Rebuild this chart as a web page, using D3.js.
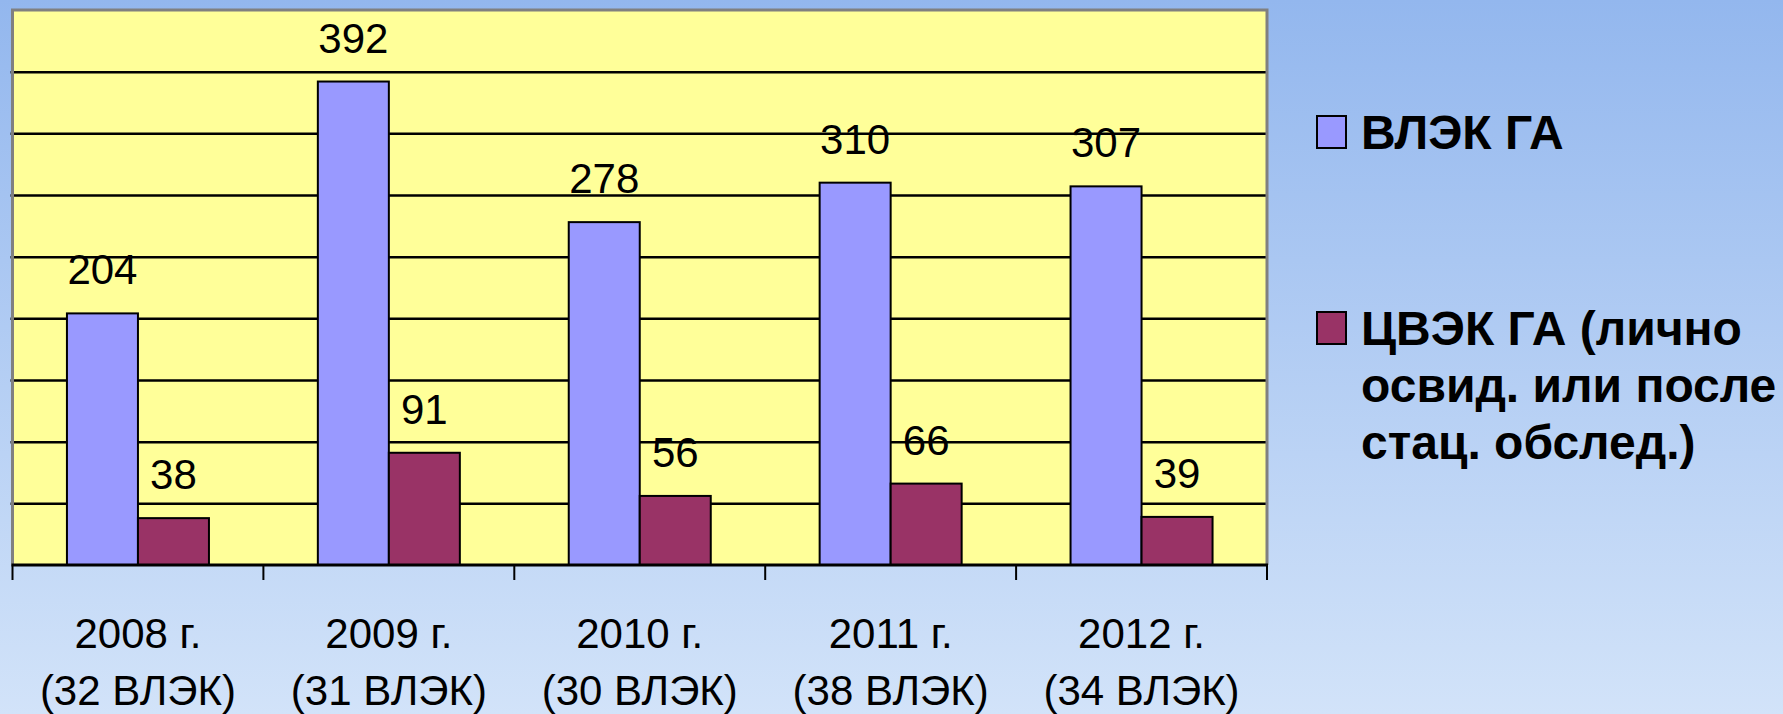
<html lang="ru">
<head>
  <meta charset="UTF-8"/>
  <title>ВЛЭК / ЦВЭК ГА</title>
  <script src="https://d3js.org/d3.v7.min.js"></script>
  <style>
body {
  margin: 0;
  font-family: 'Liberation Sans', Arial, sans-serif;
}

svg {
  display: block;
}

.bar {
  stroke: #000;
  stroke-width: 2;
}

.grid line {
  stroke: #000;
  stroke-width: 2.5;
}

.grid path {
  stroke-width: 0;
}

text.value {
  font-size: 42px;
  fill: #000;
}

text.cat {
  font-size: 42px;
  fill: #000;
}

text.legend {
  font-size: 48px;
  font-weight: 700;
  fill: #000;
}
  </style>
</head>
<body>
  <svg id="chart" width="1783" height="714"></svg>
  <script>

const years = ['2008 г.', '2009 г.', '2010 г.', '2011 г.', '2012 г.'];
const vlekCounts = ['(32 ВЛЭК)', '(31 ВЛЭК)', '(30 ВЛЭК)', '(38 ВЛЭК)', '(34 ВЛЭК)'];
const seriesNames = ['ВЛЭК ГА', 'ЦВЭК ГА (лично освид. или после стац. обслед.)'];
const legendLines = [['ВЛЭК ГА'], ['ЦВЭК ГА (лично', 'освид. или после', 'стац. обслед.)']];
const vlekGA = [204, 392, 278, 310, 307];
const cvekGA = [38, 91, 56, 66, 39];
const yTicks = [0, 50, 100, 150, 200, 250, 300, 350, 400, 450];

const colors = ['#9999FF', '#993366'];

const svg = d3.select('#chart');
const W = 1783, H = 714;

// background gradient
const grad = svg.append('defs').append('linearGradient')
  .attr('id', 'bg').attr('x1', 0).attr('y1', 0).attr('x2', 0).attr('y2', 1);
grad.append('stop').attr('offset', '0%').attr('stop-color', '#93B7EE');
grad.append('stop').attr('offset', '100%').attr('stop-color', '#D2E3F9');
svg.append('rect').attr('width', W).attr('height', H).attr('fill', 'url(#bg)');

const plotL = 12.5, plotR = 1267, plotT = 10, plotB = 565;

const x0 = d3.scaleBand().domain(years).range([plotL, plotR]).padding(0);
const bw = x0.bandwidth();
const x1 = d3.scaleBand().domain(seriesNames).range([bw * 0.217, bw * 0.783]).padding(0);
const y = d3.scaleLinear().domain([0, 450]).range([plotB, plotT]);

// plot area
svg.append('rect')
  .attr('x', plotL).attr('y', plotT)
  .attr('width', plotR - plotL).attr('height', plotB - plotT)
  .attr('fill', '#FFFF99');

// grid lines
svg.append('g')
  .attr('class', 'grid')
  .attr('transform', `translate(${plotL},0)`)
  .call(d3.axisLeft(y).tickValues(yTicks.slice(1, -1)).tickSize(-(plotR - plotL)).tickFormat(''))
  .call(g => g.selectAll('line').attr('x1', -2).attr('x2', plotR - plotL));

// plot border (gray) on left, top, right
svg.append('path')
  .attr('d', `M${plotL},${plotB}V${plotT}H${plotR}V${plotB}`)
  .attr('fill', 'none')
  .attr('stroke', '#808080')
  .attr('stroke-width', 3);

const data = years.map((yr, i) => ({ year: yr, values: [vlekGA[i], cvekGA[i]] }));

const groups = svg.selectAll('g.group')
  .data(data)
  .enter()
  .append('g')
  .attr('class', 'group')
  .attr('transform', d => `translate(${x0(d.year)},0)`);

groups.selectAll('rect')
  .data(d => d.values.map((v, k) => ({ key: seriesNames[k], k: k, v: v })))
  .enter()
  .append('rect')
  .attr('class', 'bar')
  .attr('x', d => x1(d.key))
  .attr('y', d => y(d.v))
  .attr('width', x1.bandwidth())
  .attr('height', d => y(0) - y(d.v))
  .attr('fill', d => colors[d.k]);

groups.selectAll('text.value')
  .data(d => d.values.map((v, k) => ({ key: seriesNames[k], v: v })))
  .enter()
  .append('text')
  .attr('class', 'value')
  .attr('x', d => x1(d.key) + x1.bandwidth() / 2)
  .attr('y', d => y(d.v) - 29)
  .attr('text-anchor', 'middle')
  .text(d => d.v);

// x axis
const xAxis = svg.append('g')
  .attr('transform', `translate(0,${plotB})`)
  .call(d3.axisBottom(x0).tickSize(0).tickFormat(''));
xAxis.select('.domain').attr('stroke', '#000').attr('stroke-width', 3).attr('d', `M${plotL - 1},0H${plotR + 1}`);

xAxis.selectAll('line.bound')
  .data(d3.range(years.length + 1))
  .enter()
  .append('line')
  .attr('class', 'bound')
  .attr('x1', i => plotL + x0.step() * i)
  .attr('x2', i => plotL + x0.step() * i)
  .attr('y1', 0)
  .attr('y2', 15)
  .attr('stroke', '#000')
  .attr('stroke-width', 2);

const catText = xAxis.selectAll('text.cat')
  .data(years)
  .enter()
  .append('text')
  .attr('class', 'cat')
  .attr('text-anchor', 'middle')
  .attr('x', d => x0(d) + bw / 2)
  .attr('y', 83);
catText.append('tspan').text(d => d);
catText.append('tspan')
  .attr('x', d => x0(d) + bw / 2)
  .attr('dy', 57)
  .text((d, i) => vlekCounts[i]);

// legend
const legendY = [149, 345];
const legend = svg.selectAll('g.legend')
  .data(seriesNames)
  .enter()
  .append('g')
  .attr('class', 'legend')
  .attr('transform', (d, i) => `translate(1316,${legendY[i]})`);

legend.append('rect')
  .attr('x', 1)
  .attr('y', -33)
  .attr('width', 29)
  .attr('height', 32)
  .attr('fill', (d, i) => colors[i])
  .attr('stroke', '#000')
  .attr('stroke-width', 2);

legend.append('text')
  .attr('class', 'legend')
  .attr('x', 45)
  .attr('y', 0)
  .selectAll('tspan')
  .data((d, i) => legendLines[i])
  .enter()
  .append('tspan')
  .attr('x', 45)
  .attr('dy', (d, j) => j === 0 ? 0 : 57)
  .text(d => d);

  </script>
</body>
</html>
